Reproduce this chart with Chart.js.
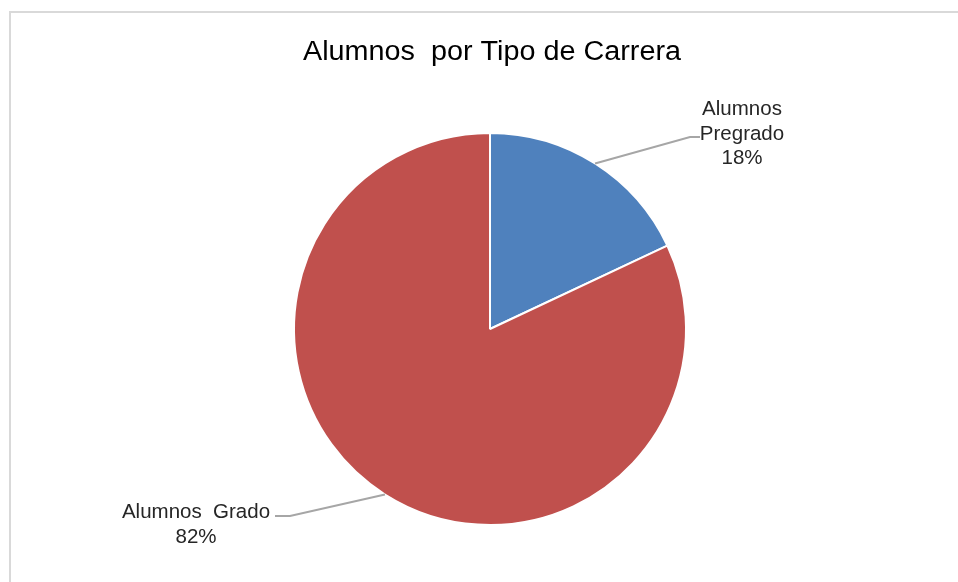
<!DOCTYPE html>
<html>
<head>
<meta charset="utf-8">
<script src="https://cdn.jsdelivr.net/npm/chart.js@4.4.0/dist/chart.umd.min.js"></script>
<style>
  html, body { margin: 0; padding: 0; background: #fff; }
  #wrap { width: 958px; height: 582px; }
</style>
</head>
<body>
<div id="wrap"><canvas id="chart-1" width="958" height="582"></canvas></div>
<script>
// Datos del gráfico
const categorias = ['Alumnos Pregrado', 'Alumnos Grado'];
const etiquetas = [['Alumnos', 'Pregrado'], ['Alumnos  Grado']];
const porcentajes = [18, 82];
const colores = ['#4F81BD', '#C0504D'];
const titulo = 'Alumnos  por Tipo de Carrera';

// posiciones de las etiquetas (codo de la línea guía y texto)
const etiquetaPos = [
    { codo: [690, 137], fin: [700, 137], texto: [742, 115] },
    { codo: [290, 516], fin: [275, 516], texto: [196, 518] }
];

const decoracion = {
    id: 'decoracion',
    beforeDraw(chart) {
        const ctx = chart.ctx;
        ctx.save();
        ctx.fillStyle = '#fff';
        ctx.fillRect(0, 0, chart.width, chart.height);
        ctx.strokeStyle = '#D9D9D9';
        ctx.lineWidth = 2;
        ctx.strokeRect(10, 12, chart.width + 20, chart.height + 20);
        // título
        ctx.fillStyle = '#000';
        ctx.font = '27px "Liberation Sans", Arial, sans-serif';
        ctx.textAlign = 'center';
        ctx.textBaseline = 'alphabetic';
        const w = ctx.measureText(titulo).width;
        ctx.translate(492, 60);
        ctx.scale(378 / w, 1);
        ctx.fillText(titulo, 0, 0);
        ctx.restore();
    },
    afterDraw(chart) {
        const ctx = chart.ctx;
        const meta = chart.getDatasetMeta(0);
        ctx.save();
        meta.data.forEach((arc, i) => {
            const mid = (arc.startAngle + arc.endAngle) / 2;
            const r = arc.outerRadius;
            const x0 = arc.x + Math.cos(mid) * r;
            const y0 = arc.y + Math.sin(mid) * r;
            const p = etiquetaPos[i];
            ctx.strokeStyle = '#A6A6A6';
            ctx.lineWidth = 2;
            ctx.beginPath();
            ctx.moveTo(x0, y0);
            ctx.lineTo(p.codo[0], p.codo[1]);
            ctx.lineTo(p.fin[0], p.fin[1]);
            ctx.stroke();

            const lineas = etiquetas[i].concat([porcentajes[i] + '%']);
            ctx.fillStyle = '#262626';
            ctx.font = '20.5px "Liberation Sans", Arial, sans-serif';
            ctx.textAlign = 'center';
            ctx.textBaseline = 'alphabetic';
            lineas.forEach((t, k) => {
                ctx.fillText(t, p.texto[0], p.texto[1] + k * 24.5);
            });
        });
        ctx.restore();
    }
};

const ctx1 = document.getElementById('chart-1').getContext('2d');
const myChart1 = new Chart(ctx1, {
    type: 'pie',
    data: {
        labels: categorias,
        datasets: [{
            data: porcentajes,
            backgroundColor: colores,
            borderColor: '#ffffff',
            borderWidth: 2
        }]
    },
    options: {
        responsive: false,
        animation: false,
        layout: {
            padding: { left: 100, right: 78, top: 132, bottom: 56 }
        },
        plugins: {
            legend: { display: false },
            title: { display: false },
            tooltip: { enabled: false }
        }
    },
    plugins: [decoracion]
});
</script>
</body>
</html>
